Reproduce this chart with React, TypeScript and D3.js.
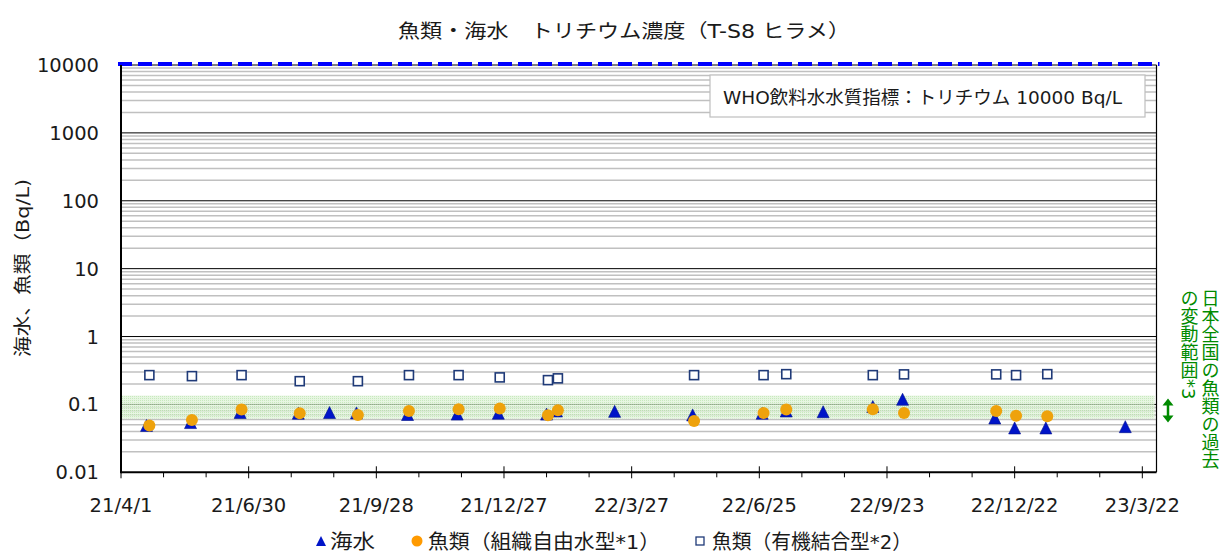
import React, { useEffect, useRef } from 'react';
import * as d3 from 'd3';

// seawater (triangles)
const seaDates = [
  '2021-04-19', '2021-05-20', '2021-06-24', '2021-08-04', '2021-08-26', '2021-09-14',
  '2021-10-20', '2021-11-24', '2021-12-23', '2022-01-26', '2022-02-02', '2022-03-15',
  '2022-05-09', '2022-06-27', '2022-07-14', '2022-08-09', '2022-09-13', '2022-10-04',
  '2022-12-08', '2022-12-22', '2023-01-13', '2023-03-10',
];
const seaValues = [
  0.049, 0.054, 0.076, 0.074, 0.076, 0.075,
  0.071, 0.072, 0.074, 0.072, 0.08, 0.079,
  0.07, 0.074, 0.08, 0.078, 0.093, 0.119,
  0.063, 0.045, 0.045, 0.047,
];

// fish, tissue free water (circles)
const fishDates = [
  '2021-04-21', '2021-05-21', '2021-06-25', '2021-08-05', '2021-09-15', '2021-10-21',
  '2021-11-25', '2021-12-24', '2022-01-27', '2022-02-03', '2022-05-10', '2022-06-28',
  '2022-07-14', '2022-09-13', '2022-10-05', '2022-12-09', '2022-12-23', '2023-01-14',
];
const fishFreeValues = [
  0.049, 0.059, 0.084, 0.074, 0.07, 0.08,
  0.085, 0.087, 0.069, 0.082, 0.057, 0.075,
  0.084, 0.085, 0.075, 0.08, 0.068, 0.067,
];
// fish, organically bound (squares)
const fishObtValues = [
  0.27, 0.261, 0.27, 0.22, 0.22, 0.27,
  0.27, 0.25, 0.228, 0.242, 0.27, 0.27,
  0.279, 0.27, 0.277, 0.277, 0.27, 0.279,
];

const xTickLabels = ['21/4/1', '21/6/30', '21/9/28', '21/12/27', '22/3/27', '22/6/25', '22/9/23', '22/12/22', '23/3/22'];
const yTickLabels = ['0.01', '0.1', '1', '10', '100', '1000', '10000'];
const bandRange = [0.062, 0.135];

const FONT = "'DejaVu Sans', 'Noto Sans CJK JP', sans-serif";

const App: React.FC = () => {
  const svgRef = useRef<SVGSVGElement>(null);

  useEffect(() => {
    if (!svgRef.current) return;
    const svg = d3.select(svgRef.current);
    svg.selectAll('*').remove();

    const left = 121, right = 1156.5, top = 65, bottom = 472.3;
    const start = new Date(Date.UTC(2021, 3, 1));
    const end = d3.utcDay.offset(start, 730);
    const x = d3.scaleUtc().domain([start, end]).range([left, right]);
    const y = d3.scaleLog().domain([0.01, 10000]).range([bottom, top]);
    const parse = d3.utcParse('%Y-%m-%d');

    const defs = svg.append('defs');
    const pat = defs.append('pattern')
      .attr('id', 'band-pat')
      .attr('width', 2).attr('height', 2)
      .attr('patternUnits', 'userSpaceOnUse');
    pat.append('rect').attr('width', 2).attr('height', 2).attr('fill', '#dff3d8');
    pat.append('rect').attr('width', 1).attr('height', 1).attr('fill', '#b6e2a8');

    // minor grid
    const minor: number[] = [];
    for (let e = -2; e < 4; e++) {
      for (let m = 2; m <= 9; m++) minor.push(m * Math.pow(10, e));
    }
    svg.append('g').selectAll('line').data(minor).join('line')
      .attr('x1', left).attr('x2', right)
      .attr('y1', d => y(d)).attr('y2', d => y(d))
      .attr('stroke', '#c0c0c0').attr('stroke-width', 1.5);

    // major grid
    svg.append('g').selectAll('line').data(yTickLabels.slice(1, -1).map(Number)).join('line')
      .attr('x1', left).attr('x2', right)
      .attr('y1', d => y(d)).attr('y2', d => y(d))
      .attr('stroke', '#000').attr('stroke-width', 1);

    // band of past national range
    svg.append('rect')
      .attr('x', left).attr('width', right - left - 2)
      .attr('y', y(bandRange[1])).attr('height', y(bandRange[0]) - y(bandRange[1]))
      .attr('fill', 'url(#band-pat)').attr('opacity', 0.75);

    // right border
    svg.append('line')
      .attr('x1', right).attr('x2', right).attr('y1', top).attr('y2', bottom)
      .attr('stroke', '#000').attr('stroke-width', 1.2);

    // top line + WHO dashed line
    svg.append('line')
      .attr('x1', left).attr('x2', right).attr('y1', y(10000)).attr('y2', y(10000))
      .attr('stroke', '#000').attr('stroke-width', 1);
    svg.append('line')
      .attr('x1', left - 3).attr('x2', right + 3).attr('y1', y(10000) - 1).attr('y2', y(10000) - 1)
      .attr('stroke', '#0000ff').attr('stroke-width', 4).attr('stroke-dasharray', '14 6');

    // axes
    svg.append('line')
      .attr('x1', left).attr('x2', left).attr('y1', top).attr('y2', bottom + 1)
      .attr('stroke', '#000').attr('stroke-width', 2);
    svg.append('line')
      .attr('x1', left).attr('x2', right).attr('y1', bottom).attr('y2', bottom)
      .attr('stroke', '#000').attr('stroke-width', 2);

    const minorTicks = d3.range(0, 731, 30).map(i => d3.utcDay.offset(start, i)).filter((_, i) => i % 3 !== 0);
    svg.append('g').selectAll('line').data(minorTicks).join('line')
      .attr('x1', d => x(d)).attr('x2', d => x(d))
      .attr('y1', bottom).attr('y2', bottom + 5)
      .attr('stroke', '#000').attr('stroke-width', 1);
    const majorTicks = xTickLabels.map((_, i) => d3.utcDay.offset(start, i * 90));
    svg.append('g').selectAll('line').data(majorTicks).join('line')
      .attr('x1', d => x(d)).attr('x2', d => x(d))
      .attr('y1', bottom - 6).attr('y2', bottom + 6)
      .attr('stroke', '#000').attr('stroke-width', 1);

    svg.append('g').selectAll('text').data(majorTicks).join('text')
      .attr('x', d => x(d)).attr('y', bottom + 40)
      .attr('text-anchor', 'middle')
      .style('font-family', FONT).style('font-size', '19.5px').attr('fill', '#1a1a1a')
      .text((_, i) => xTickLabels[i]);

    svg.append('g').selectAll('text').data(yTickLabels).join('text')
      .attr('x', left - 22).attr('y', d => y(Number(d)) + 7)
      .attr('text-anchor', 'end')
      .style('font-family', FONT).style('font-size', '19.5px').attr('fill', '#1a1a1a')
      .text(d => d);

    // markers
    const tri = 'M0,-6L6,6L-6,6Z';
    svg.append('g').selectAll('path').data(seaDates).join('path')
      .attr('d', tri)
      .attr('transform', (d, i) => `translate(${x(parse(d)!)},${y(seaValues[i])})`)
      .attr('fill', '#0014c8').attr('stroke', '#00108c').attr('stroke-width', 0.6);

    svg.append('g').selectAll('circle').data(fishDates).join('circle')
      .attr('cx', d => x(parse(d)!)).attr('cy', (_, i) => y(fishFreeValues[i]))
      .attr('r', 6)
      .attr('fill', '#eea20c');

    svg.append('g').selectAll('rect').data(fishDates).join('rect')
      .attr('x', d => x(parse(d)!) - 4.5).attr('y', (_, i) => y(fishObtValues[i]) - 4.5)
      .attr('width', 9).attr('height', 9)
      .attr('fill', '#fff').attr('stroke', '#1f3a78').attr('stroke-width', 1.6);

    // WHO box
    svg.append('rect')
      .attr('x', 710).attr('y', 75).attr('width', 435).attr('height', 42)
      .attr('fill', '#fff').attr('stroke', '#bfbfbf').attr('stroke-width', 1.2);
    svg.append('text')
      .attr('x', 723).attr('y', 103.5)
      .attr('textLength', 399).attr('lengthAdjust', 'spacingAndGlyphs')
      .style('font-family', FONT).style('font-size', '18px').attr('fill', '#1a1a1a')
      .text('WHO飲料水水質指標：トリチウム 10000 Bq/L');

    // title
    svg.append('text')
      .attr('x', 398).attr('y', 38)
      .attr('textLength', 452).attr('lengthAdjust', 'spacingAndGlyphs')
      .style('font-family', FONT).style('font-size', '19px').attr('fill', '#1a1a1a')
      .text('魚類・海水　トリチウム濃度（T-S8 ヒラメ）');

    // y label
    svg.append('text')
      .attr('transform', 'translate(29,268) rotate(-90)')
      .attr('text-anchor', 'middle')
      .attr('textLength', 178).attr('lengthAdjust', 'spacingAndGlyphs')
      .style('font-family', FONT).style('font-size', '18px').attr('fill', '#1a1a1a')
      .text('海水、魚類（Bq/L)');

    // right side annotation
    const green = '#008a00';
    const ay1 = y(bandRange[1]) + 3, ay2 = y(bandRange[0]) + 4;
    svg.append('line')
      .attr('x1', 1168).attr('x2', 1168).attr('y1', ay1 + 5).attr('y2', ay2 - 5)
      .attr('stroke', green).attr('stroke-width', 2.5);
    svg.append('path')
      .attr('d', `M1162.5,${ay1 + 7}L1168,${ay1}L1173.5,${ay1 + 7}Z M1162.5,${ay2 - 7}L1168,${ay2}L1173.5,${ay2 - 7}Z`)
      .attr('fill', green);
    const vcols = [
      { x: 1209, t: '日本全国の魚類の過去' },
      { x: 1188, t: 'の変動範囲*3' },
    ];
    svg.append('g').selectAll('text').data(vcols).join('text')
      .attr('x', d => d.x).attr('y', 289)
      .attr('writing-mode', 'vertical-rl')
      .style('font-family', FONT).style('font-size', '18px').attr('fill', green)
      .text(d => d.t);

    // legend
    const ly = 541;
    const legendItems = [
      { x: 330, w: 45, t: '海水' },
      { x: 428, w: 232, t: '魚類（組織自由水型*1）' },
      { x: 712, w: 200, t: '魚類（有機結合型*2）' },
    ];
    const lg = svg.append('g').style('font-family', FONT).style('font-size', '20px').attr('fill', '#1a1a1a');
    lg.append('path').attr('d', 'M0,-5L5,5L-5,5Z')
      .attr('transform', `translate(321,${ly})`).attr('fill', '#0014c8');
    lg.append('circle').attr('cx', 417).attr('cy', ly).attr('r', 5.5).attr('fill', '#ff9a00');
    lg.append('rect').attr('x', 696).attr('y', ly - 4).attr('width', 8).attr('height', 8)
      .attr('fill', '#fff').attr('stroke', '#1f3a78').attr('stroke-width', 1.3);
    lg.selectAll('text').data(legendItems).join('text')
      .attr('x', d => d.x).attr('y', ly + 7.5)
      .attr('textLength', d => d.w).attr('lengthAdjust', 'spacingAndGlyphs')
      .text(d => d.t);
  }, []);

  return (
    <svg
      ref={svgRef}
      width={1220}
      height={554}
      style={{ position: 'absolute', left: 0, top: 0, background: '#fff' }}
    />
  );
};

export default App;
